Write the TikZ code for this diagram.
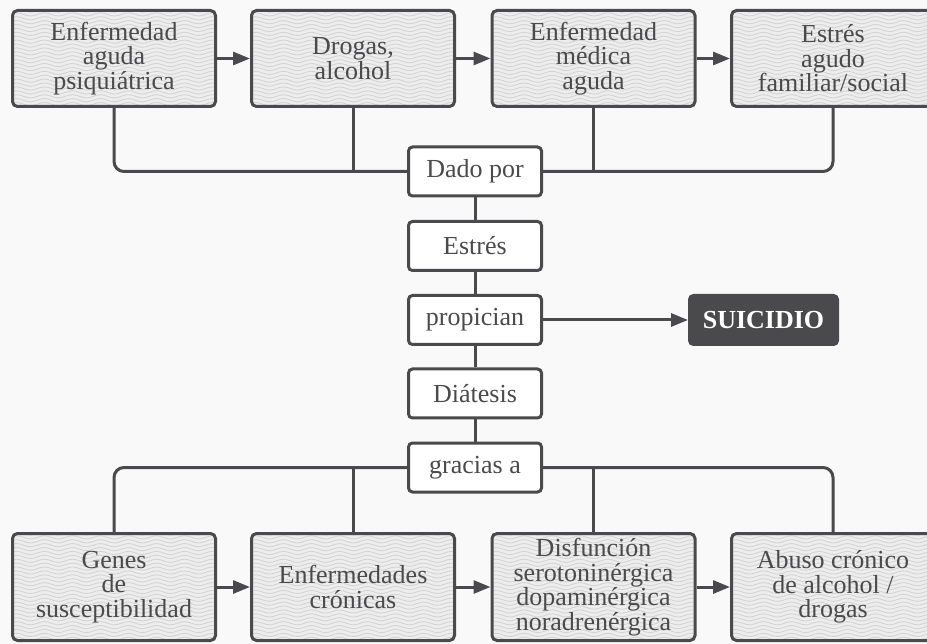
\documentclass[tikz,border=0pt]{standalone}
\usepackage{fontspec}
\setmainfont{Liberation Serif}
\usetikzlibrary{arrows.meta}

\definecolor{ink}{HTML}{4A4A4C}
\definecolor{paper}{HTML}{F9F9F9}
\definecolor{wavefill}{HTML}{EDEDED}
\definecolor{waveline}{HTML}{D4D4D4}

\begin{document}
\begin{tikzpicture}[x=1pt, y=-1pt, line width=3pt, draw=ink]
\tikzstyle{wavy}=[draw=waveline, line width=0.9pt, sharp corners]
\tikzstyle{label font}=[font=\fontsize{26}{24.5}\selectfont, text=ink]
\tikzstyle{factor}=[rectangle, draw=ink, fill=wavefill, rounded corners=5pt,
    minimum width=203pt, align=center, label font,
    path picture={
        \foreach \k in {0,...,28}
            \draw[wavy] ([xshift=-3pt, yshift={-3.9pt*\k}]path picture bounding box.north west)
                \foreach \j in {1,...,9} {
                    sin ++(7pt,1.6pt) cos ++(7pt,-1.6pt) sin ++(7pt,-1.6pt) cos ++(7pt,1.6pt)
                };
    }]
\tikzstyle{acute factor}=[factor, minimum height=96pt]
\tikzstyle{chronic factor}=[factor, minimum height=107pt]
\tikzstyle{link}=[rectangle, draw=ink, fill=white, rounded corners=4pt,
    minimum width=133pt, minimum height=49pt, label font]
\tikzstyle{outcome}=[rectangle, draw=ink, fill=ink, rounded corners=4pt,
    minimum width=148pt, minimum height=49pt, text=white,
    font=\fontsize{26}{24.5}\selectfont\bfseries]
\tikzstyle{arrow}=[-{Triangle[length=17pt, width=13pt]}]

% Canvas
\clip (0,0) rectangle (927,644);
\fill[paper] (0,0) rectangle (927,644);

% Draw the acute factors (stress)
\node[acute factor] (a1) at (114, 58.5) {Enfermedad\\aguda\\psiquiátrica};
\node[acute factor] (a2) at (353, 58.5) {Drogas,\\alcohol};
\node[acute factor] (a3) at (593.5, 58.5) {Enfermedad\\médica\\aguda};
\node[acute factor] (a4) at (833, 58.5) {Estrés\\agudo\\familiar/social};

% Draw the central chain
\node[link] (dado) at (475, 171.5) {Dado por};
\node[link] (estres) at (475, 246) {Estrés};
\node[link] (propician) at (475, 320) {propician};
\node[link] (diatesis) at (475, 393.5) {Diátesis};
\node[link] (gracias) at (475, 467.5) {gracias a};
\node[outcome] (suicidio) at (763.5, 320) {SUICIDIO};

% Draw the chronic factors (diathesis)
\node[chronic factor] (c1) at (114, 587) {Genes\\de\\susceptibilidad};
\node[chronic factor] (c2) at (353, 587) {Enfermedades\\crónicas};
\node[chronic factor] (c3) at (593.5, 587) {Disfunción\\serotoninérgica\\dopaminérgica\\noradrenérgica};
\node[chronic factor] (c4) at (833, 587) {Abuso crónico\\de alcohol /\\drogas};

% Arrows between factors
\draw[arrow] (a1) -- (a2);
\draw[arrow] (a2) -- (a3);
\draw[arrow] (a3) -- (a4);
\draw[arrow] (c1) -- (c2);
\draw[arrow] (c2) -- (c3);
\draw[arrow] (c3) -- (c4);

% Top branches
\draw[rounded corners=10pt] (a1.south) |- (dado.west);
\draw (a2.south) -- (a2.south |- dado.west);
\draw[rounded corners=10pt] (a4.south) |- (dado.east);
\draw (a3.south) -- (a3.south |- dado.east);

% Bottom branches
\draw[rounded corners=10pt] (c1.north) |- (gracias.west);
\draw (c2.north) -- (c2.north |- gracias.west);
\draw[rounded corners=10pt] (c4.north) |- (gracias.east);
\draw (c3.north) -- (c3.north |- gracias.east);

% Central chain
\draw (dado) -- (estres) -- (propician) -- (diatesis) -- (gracias);
\draw[arrow] (propician) -- (suicidio);

\end{tikzpicture}
\end{document}
